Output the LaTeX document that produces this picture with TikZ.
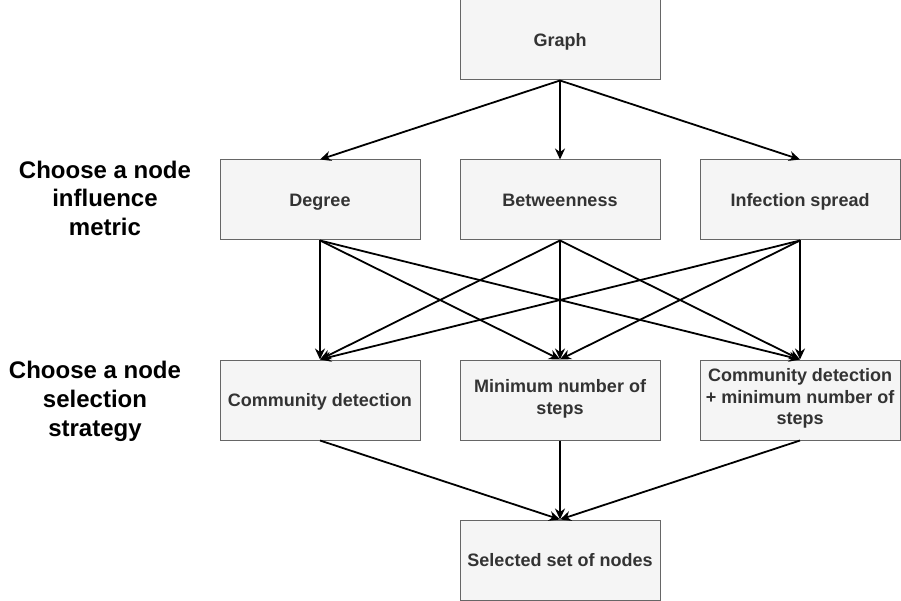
\documentclass[tikz,border=0pt]{standalone}
\usepackage{fontspec}
\setmainfont{Liberation Sans}
\usetikzlibrary{arrows.meta}
\definecolor{boxfill}{HTML}{F5F5F5}
\definecolor{boxline}{HTML}{666666}
\definecolor{boxtext}{HTML}{333333}
\tikzset{
  stepbox/.style={draw=boxline, fill=boxfill, line width=1pt, minimum width=200pt, minimum height=80pt, inner sep=0pt, align=center, text=boxtext, font=\fontsize{18}{21.6}\selectfont\bfseries, execute at begin node=\rule{0pt}{19pt}, execute at end node=\strut},
  sidelabel/.style={align=center, text=black, font=\fontsize{24}{28.8}\selectfont\bfseries, execute at begin node=\strut, execute at end node=\strut},
  conn/.style={line width=1.8pt, -{Stealth[length=11pt,width=10pt]}}
}
\begin{document}
\begin{tikzpicture}[x=1pt,y=-1pt]
\useasboundingbox (0,0) rectangle (901,601);
\node[stepbox] (g) at (560,40) {Graph};
\node[stepbox] (d) at (320,200) {Degree};
\node[stepbox] (b) at (560,200) {Betweenness};
\node[stepbox] (i) at (800,200) {Infection spread};
\node[stepbox] (c) at (320,400) {Community detection};
\node[stepbox] (m) at (560,400) {Minimum number of\\steps};
\node[stepbox] (cm) at (800,400) {Community detection\\+ minimum number of\\steps};
\node[stepbox] (s) at (560,560) {Selected set of nodes};
\node[sidelabel] (l1) at (105,202.5) {Choose a node\\influence\\metric};
\node[sidelabel] (l2) at (95,403) {Choose a node\\selection\\strategy};
\foreach \t in {d,b,i} \draw[conn] (g.south) -- (\t.north);
\foreach \f in {d,b,i} {
  \foreach \t in {c,m,cm} \draw[conn] (\f.south) -- (\t.north);
}
\foreach \f in {c,m,cm} \draw[conn] (\f.south) -- (s.north);
\end{tikzpicture}
\end{document}
